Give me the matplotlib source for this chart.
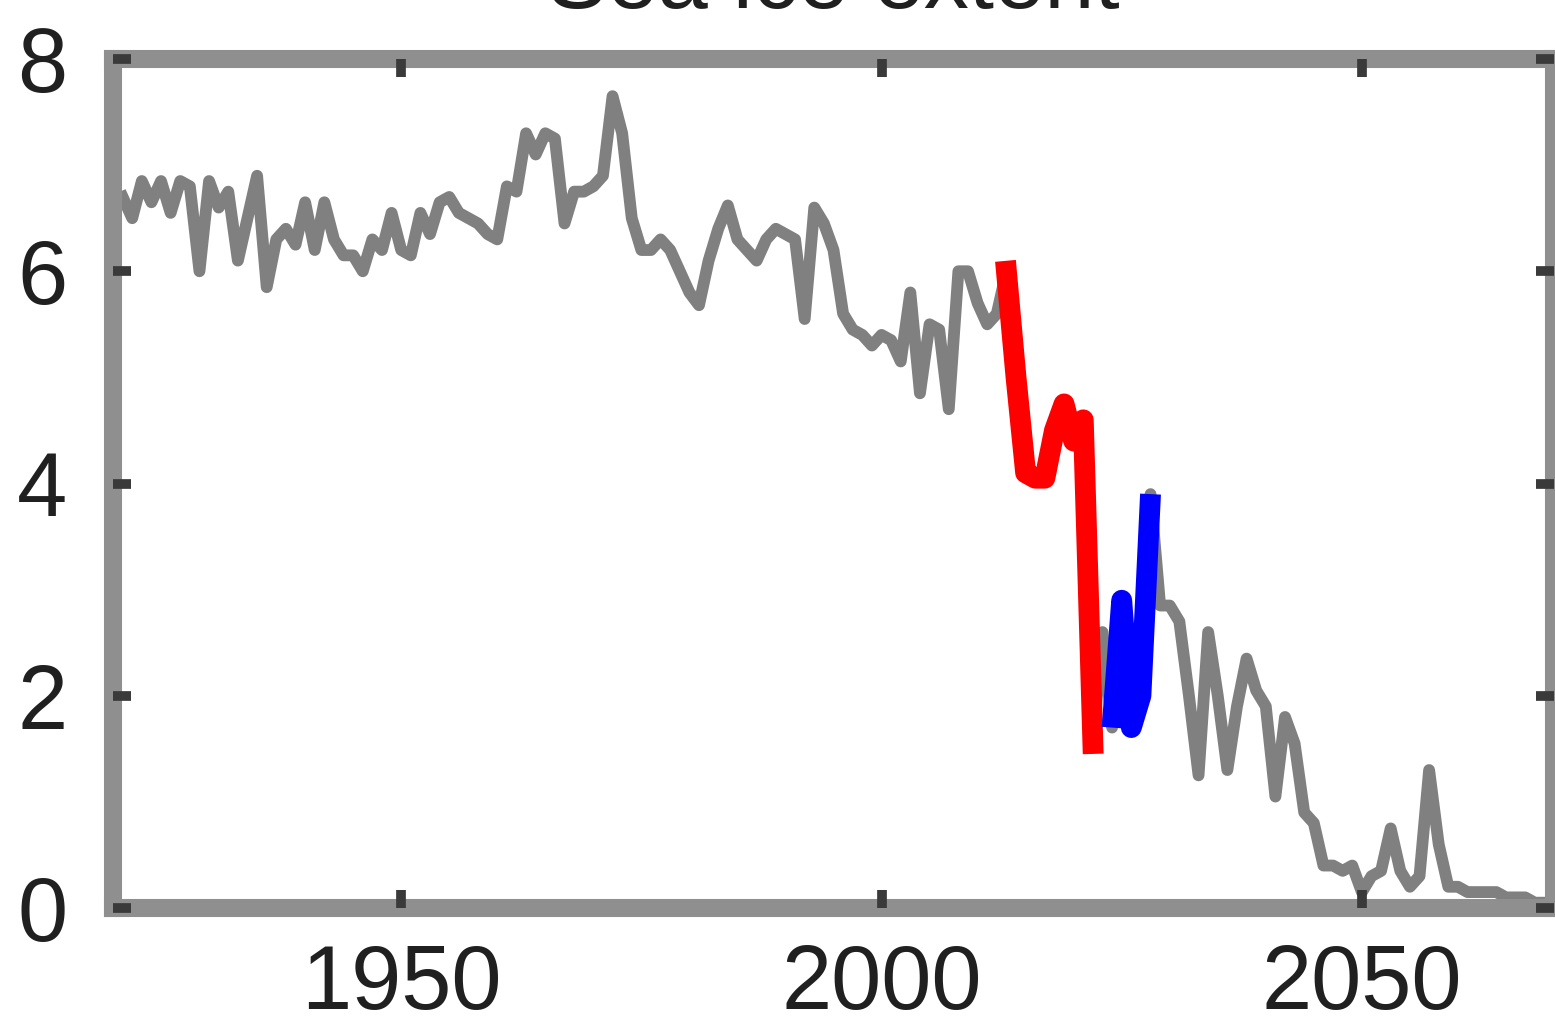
import numpy as np
import matplotlib.pyplot as plt

plt.rcParams['font.family'] = ['Liberation Sans', 'DejaVu Sans']

# yearly series, 1921-2069
years = np.arange(1921, 2070)
extent = [
    6.7, 6.5, 6.85, 6.65, 6.85, 6.55, 6.85, 6.8, 6.0, 6.85,      # 1921-1930
    6.6, 6.75, 6.1, 6.5, 6.9, 5.85, 6.3, 6.4, 6.25, 6.65,        # 1931-1940
    6.2, 6.65, 6.3, 6.15, 6.15, 6.0, 6.3, 6.2, 6.55, 6.2,        # 1941-1950
    6.15, 6.55, 6.35, 6.65, 6.7, 6.55, 6.5, 6.45, 6.35, 6.3,     # 1951-1960
    6.8, 6.75, 7.3, 7.1, 7.3, 7.25, 6.45, 6.75, 6.75, 6.8,       # 1961-1970
    6.9, 7.65, 7.3, 6.5, 6.2, 6.2, 6.3, 6.2, 6.0, 5.8,           # 1971-1980
    5.68, 6.1, 6.4, 6.62, 6.3, 6.2, 6.1, 6.3, 6.4, 6.35,         # 1981-1990
    6.3, 5.55, 6.6, 6.45, 6.2, 5.6, 5.45, 5.4, 5.3, 5.4,         # 1991-2000
    5.35, 5.15, 5.8, 4.85, 5.5, 5.45, 4.7, 6.0, 6.0, 5.7,        # 2001-2010
    5.5, 5.6, 6.0, 5.0, 4.1, 4.05, 4.05, 4.5, 4.75, 4.4,         # 2011-2020
    4.6, 1.55, 2.6, 1.7, 2.9, 1.7, 2.0, 3.9, 2.85, 2.85,         # 2021-2030
    2.7, 2.0, 1.25, 2.6, 2.0, 1.3, 1.9, 2.35, 2.05, 1.9,         # 2031-2040
    1.05, 1.8, 1.55, 0.9, 0.8, 0.4, 0.4, 0.35, 0.4, 0.15,        # 2041-2050
    0.3, 0.35, 0.75, 0.35, 0.2, 0.3, 1.3, 0.6, 0.2, 0.2,         # 2051-2060
    0.15, 0.15, 0.15, 0.15, 0.1, 0.1, 0.1, 0.05, 0.05,           # 2061-2069
]

# highlighted stretches
red_years = np.arange(2013, 2023)
red_vals = [6.0, 5.0, 4.1, 4.05, 4.05, 4.5, 4.75, 4.4, 4.6, 1.55]
blue_years = np.arange(2024, 2029)
blue_vals = [1.7, 2.9, 1.7, 2.0, 3.9]

title = 'Sea ice extent'
xticks = [1950, 2000, 2050]
yticks = [0, 2, 4, 6, 8]

fig = plt.figure(figsize=(15.55, 10.29), dpi=100)
ax = fig.add_axes([113/1555, 1 - 908/1029, (1554 - 113)/1555, (908 - 59)/1029])

ax.plot(years, extent, color='#808080', lw=8.5, zorder=2)
ax.plot(red_years, red_vals, color='#ff0000', lw=15, zorder=3)
ax.plot(blue_years, blue_vals, color='#0000ff', lw=15, zorder=3,
        solid_capstyle='butt')

ax.set_xlim(1920, 2070)
ax.set_ylim(0, 8)
ax.set_xticks(xticks)
ax.set_yticks(yticks)
ax.set_axisbelow(False)

for s in ax.spines.values():
    s.set_color('#8f8f8f')
    s.set_linewidth(13)
    s.set_zorder(2.4)

ax.tick_params(direction='in', length=13, width=7, color='#3a3a3a',
               top=True, right=True, labelsize=65, labelcolor='#202020')
ax.tick_params(axis='x', pad=25)
ax.tick_params(axis='y', pad=33)

# the title sits mostly above the top edge, as in the original
fig.text(0.536, 1 - 8/1029, title, ha='center', va='baseline',
         fontsize=65, color='#202020')

fig.savefig('out.png', dpi=100)
